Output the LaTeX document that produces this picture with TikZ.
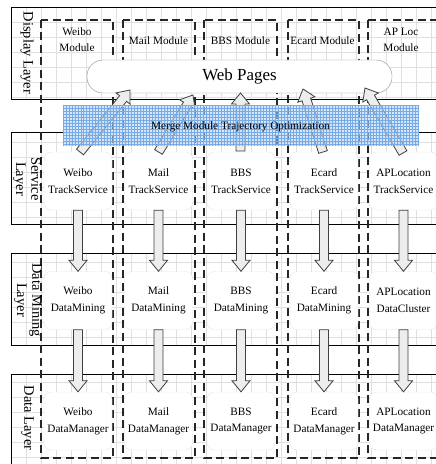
\documentclass[tikz,border=0pt]{standalone}
\usepackage{fontspec}
\setmainfont{Liberation Serif}
\usetikzlibrary{calc,patterns}
\tikzset{
  layerbox/.style={draw=black,line width=0.9bp},
  gridline/.style={draw=black!12,line width=0.6bp},
  colbox/.style={draw=black!85,line width=1.1bp,dash pattern=on 8bp off 4.5bp},
  innerbox/.style={draw=black!10,fill=white,rounded corners=7bp,minimum width=68bp,minimum height=58bp,inner sep=0pt,align=center,font=\fontsize{11.3}{17}\selectfont},
  modtext/.style={align=center,inner sep=0pt,font=\fontsize{11.3}{16}\selectfont},
  layertext/.style={rotate=-90,align=center,inner sep=0pt,font=\fontsize{14.5}{15.5}\selectfont},
  webbox/.style={draw=black!45,fill=white,rounded corners=16bp,minimum width=305bp,minimum height=33bp,font=\fontsize{17}{20}\selectfont},
  blockarr/.style={draw=black!75,fill=black!7,line width=0.8bp,line join=miter},
  bandfill/.style={fill={rgb,255:red,180;green,210;blue,245},fill opacity=0.55},
  bandpat/.style={pattern=grid,pattern color={rgb,255:red,120;green,170;blue,230},fill opacity=0.3},
}
\newcommand\blockarrow[2]{%
  \coordinate (bah) at ($(#2)!11bp!(#1)$);
  \draw[blockarr] ($(#1)!4.5bp!90:(#2)$) -- ($(bah)!4.5bp!90:(#2)$) -- ($(bah)!9bp!90:(#2)$) -- (#2)
     -- ($(bah)!9bp!-90:(#2)$) -- ($(bah)!4.5bp!-90:(#2)$) -- ($(#1)!4.5bp!-90:(#2)$) -- cycle;}
\begin{document}
\begin{tikzpicture}[x=1bp,y=-1bp]
\useasboundingbox (0,0) rectangle (436,464);
\clip (0,0) rectangle (436,464);
% grid inside layers
\begin{scope}
  \clip (11,7) rectangle (445,99) (11,132) rectangle (445,224) (11,253) rectangle (445,345) (11,374) rectangle (445,475);
  \foreach \x in {11,26,...,446} \draw[gridline] (\x,0) -- (\x,475);
  \foreach \y in {7,22,...,475} \draw[gridline] (0,\y) -- (446,\y);
\end{scope}
% layers
\draw[layerbox] (11,7) rectangle (450,99);
\draw[layerbox] (11,132) rectangle (450,224);
\draw[layerbox] (11,253) rectangle (450,345);
\draw[layerbox] (11,374) rectangle (450,480);
% module columns
\draw[colbox] (41,20) rectangle (113,458);
\draw[colbox] (123,20) rectangle (195,458);
\draw[colbox] (204,20) rectangle (277,458);
\draw[colbox] (288,20) rectangle (359,458);
\draw[colbox] (368,20) rectangle (440,458);
% service boxes
\node[innerbox] (ws) at (78,181) {Weibo\\TrackService};
\node[innerbox] (ms) at (158.5,181) {Mail\\TrackService};
\node[innerbox] (bs) at (241,181) {BBS\\TrackService};
\node[innerbox] (es) at (324,181) {Ecard\\TrackService};
\node[innerbox] (as) at (403.5,181) {APLocation\\TrackService};
% mining boxes
\node[innerbox] (wm) at (78,300.5) {Weibo\\DataMining};
\node[innerbox] (mm) at (158.5,300.5) {Mail\\DataMining};
\node[innerbox] (bm) at (241,300.5) {BBS\\DataMining};
\node[innerbox] (em) at (324,300.5) {Ecard\\DataMining};
\node[innerbox] (am) at (403.5,300.5) {APLocation\\DataCluster};
% data boxes
\node[innerbox] (wd) at (78,421) {Weibo\\DataManager};
\node[innerbox] (md) at (158.5,421) {Mail\\DataManager};
\node[innerbox] (bd) at (241,421) {BBS\\DataManager};
\node[innerbox] (ed) at (324,421) {Ecard\\DataManager};
\node[innerbox] (ad) at (403.5,421) {APLocation\\DataManager};
% web pages
\node[webbox] (web) at (239.5,76.5) {Web Pages};
% arrow tips on web pages
\coordinate (t1) at (130,90);
\coordinate (t2) at (193,95);
\coordinate (t3) at (240.5,93);
\coordinate (t4) at (303,89);
\coordinate (t5) at (365,88);
\coordinate (s1) at (80,152);
\coordinate (s2) at (158.5,152);
\coordinate (s3) at (240.5,151);
\coordinate (s4) at (323,152);
\coordinate (s5) at (403,153);
\blockarrow{s1}{t1}
\blockarrow{s2}{t2}
\blockarrow{s3}{t3}
\blockarrow{s4}{t4}
\blockarrow{s5}{t5}
% vertical arrows
\blockarrow{ws.south}{wm.north}
\blockarrow{ms.south}{mm.north}
\blockarrow{bs.south}{bm.north}
\blockarrow{es.south}{em.north}
\blockarrow{as.south}{am.north}
\blockarrow{wm.south}{wd.north}
\blockarrow{mm.south}{md.north}
\blockarrow{bm.south}{bd.north}
\blockarrow{em.south}{ed.north}
\blockarrow{am.south}{ad.north}
% merge band
\fill[bandfill] (63,106) rectangle (419,146);
\fill[bandpat] (63,106) rectangle (419,146);
\node[modtext] (band) at (240.5,127) {Merge Module Trajectory Optimization};
% module labels
\node[modtext] (m1) at (77,40) {Weibo\\Module};
\node[modtext] (m2) at (158.5,41) {Mail Module};
\node[modtext] (m3) at (240.5,41) {BBS Module};
\node[modtext] (m4) at (322.5,41) {Ecard Module};
\node[modtext] (m5) at (401,40) {AP Loc\\Module};
% layer labels
\node[layertext] (l1) at (27,53) {Display Layer};
\node[layertext] (l2) at (27,179) {Service\\Layer};
\node[layertext] (l3) at (28,300) {Data Mining\\Layer};
\node[layertext] (l4) at (27.5,418) {Data Layer};
\end{tikzpicture}
\end{document}
